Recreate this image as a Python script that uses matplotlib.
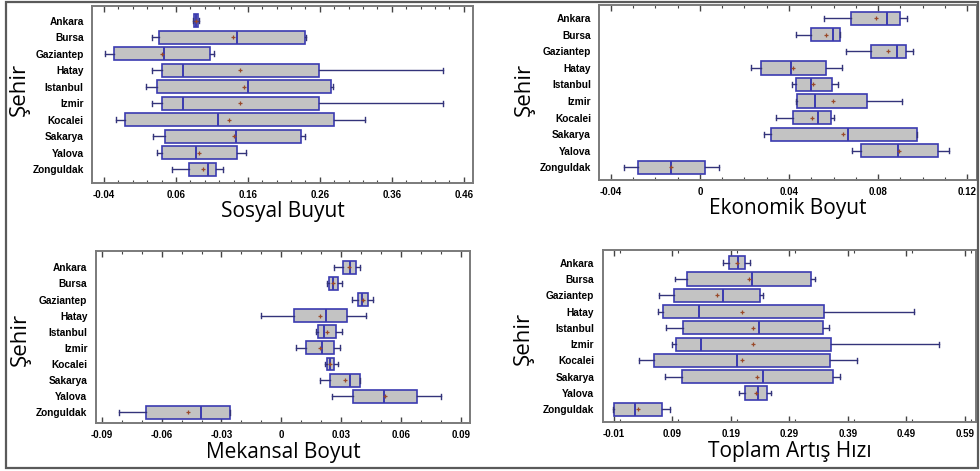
import matplotlib
matplotlib.use("Agg")
from matplotlib import pyplot as plt
from matplotlib.patches import Rectangle
from matplotlib.ticker import MultipleLocator

cities = ["Ankara", "Bursa", "Gaziantep", "Hatay", "Istanbul",
          "Izmir", "Kocalei", "Sakarya", "Yalova", "Zonguldak"]

# Sosyal Buyut
sos_lo = [0.0843, 0.0263, -0.0390, 0.0263, 0.0189, 0.0263, -0.0228, 0.0282, 0.0342, 0.0551]
sos_q1 = [0.0857, 0.0370, -0.0265, 0.0402, 0.0333, 0.0412, -0.0103, 0.0453, 0.0402, 0.0787]
sos_med = [0.0885, 0.1446, 0.0440, 0.0699, 0.1608, 0.0704, 0.1191, 0.1441, 0.0885, 0.1052]
sos_q3 = [0.0908, 0.2397, 0.1080, 0.2590, 0.2754, 0.2590, 0.2791, 0.2337, 0.1446, 0.1163]
sos_hi = [0.0922, 0.2406, 0.1126, 0.4308, 0.2777, 0.4308, 0.3222, 0.2397, 0.1571, 0.1251]
sos_mean = [0.0885, 0.1386, 0.0412, 0.1492, 0.1543, 0.1492, 0.1344, 0.1400, 0.0927, 0.0982]

# Ekonomik Boyut
eko_lo = [0.0558, 0.0430, 0.0657, 0.0231, 0.0413, 0.0431, 0.0343, 0.0288, 0.0681, -0.0342]
eko_q1 = [0.0678, 0.0499, 0.0768, 0.0273, 0.0430, 0.0437, 0.0416, 0.0318, 0.0724, -0.0279]
eko_med = [0.0838, 0.0599, 0.0883, 0.0408, 0.0500, 0.0518, 0.0530, 0.0663, 0.0890, -0.0129]
eko_q3 = [0.0899, 0.0629, 0.0923, 0.0566, 0.0591, 0.0748, 0.0588, 0.0973, 0.1070, 0.0024]
eko_hi = [0.0929, 0.0629, 0.0958, 0.0639, 0.0620, 0.0908, 0.0600, 0.0973, 0.1119, 0.0087]
eko_mean = [0.0792, 0.0565, 0.0845, 0.0419, 0.0509, 0.0596, 0.0503, 0.0643, 0.0895, -0.0129]

# Mekansal Boyut
mek_lo = [0.0265, 0.0227, 0.0356, -0.0102, 0.0175, 0.0072, 0.0219, 0.0195, 0.0252, -0.0812]
mek_q1 = [0.0307, 0.0237, 0.0383, 0.0062, 0.0182, 0.0125, 0.0230, 0.0245, 0.0360, -0.0680]
mek_med = [0.0346, 0.0257, 0.0404, 0.0225, 0.0215, 0.0205, 0.0245, 0.0344, 0.0516, -0.0401]
mek_q3 = [0.0374, 0.0285, 0.0433, 0.0327, 0.0274, 0.0265, 0.0265, 0.0396, 0.0681, -0.0256]
mek_hi = [0.0396, 0.0304, 0.0461, 0.0426, 0.0302, 0.0294, 0.0285, 0.0396, 0.0800, -0.0256]
mek_mean = [0.0339, 0.0260, 0.0411, 0.0192, 0.0230, 0.0195, 0.0243, 0.0317, 0.0520, -0.0468]

# Toplam Artış Hızı
top_lo = [0.1758, 0.0937, 0.0664, 0.0658, 0.0783, 0.0886, 0.0333, 0.0767, 0.2031, -0.0112]
top_q1 = [0.1871, 0.1142, 0.0931, 0.0732, 0.1085, 0.0960, 0.0579, 0.1062, 0.2145, -0.0095]
top_med = [0.2025, 0.2259, 0.1758, 0.1358, 0.2373, 0.1387, 0.2008, 0.2452, 0.2356, 0.0264]
top_q3 = [0.2145, 0.3273, 0.2391, 0.3484, 0.3473, 0.3604, 0.3587, 0.3649, 0.2521, 0.0726]
top_hi = [0.2225, 0.3336, 0.2452, 0.5028, 0.3580, 0.5460, 0.4049, 0.3763, 0.2589, 0.0857]
top_mean = [0.2003, 0.2208, 0.1655, 0.2093, 0.2271, 0.2271, 0.2088, 0.2350, 0.2322, 0.0315]

sos_ticks = [-0.04, 0.06, 0.16, 0.26, 0.36, 0.46]
eko_ticks = [-0.04, 0, 0.04, 0.08, 0.12]
mek_ticks = [-0.09, -0.06, -0.03, 0, 0.03, 0.06, 0.09]
top_ticks = [-0.01, 0.09, 0.19, 0.29, 0.39, 0.49, 0.59]
sos_tick_labels = ["-0.04", "0.06", "0.16", "0.26", "0.36", "0.46"]
eko_tick_labels = ["-0.04", "0", "0.04", "0.08", "0.12"]
mek_tick_labels = ["-0.09", "-0.06", "-0.03", "0", "0.03", "0.06", "0.09"]
top_tick_labels = ["-0.01", "0.09", "0.19", "0.29", "0.39", "0.49", "0.59"]

BOX_FACE = "#c3c3c3"
BOX_EDGE = "#3b3bb0"
WHISK = "#33337a"
MEAN_C = "#9a4a2a"
SPINE = "#7a7a7a"
label_font = ["Liberation Sans", "DejaVu Sans"]
title_font = ["Open Sans", "DejaVu Sans"]

fig = plt.figure(figsize=(9.8, 4.71), dpi=100)
W, H = 980.0, 471.0


def panel(rect, lo, q1, med, q3, hi, mean, xlim, ylim, ticks, tlabels, minor, xlabel, ylab_xy):
    ax = fig.add_axes(rect)
    stats = []
    for i in range(len(cities)):
        stats.append({"label": cities[i], "whislo": lo[i], "q1": q1[i], "med": med[i],
                      "q3": q3[i], "whishi": hi[i], "mean": mean[i], "fliers": []})
    ax.bxp(stats, positions=range(len(cities)), orientation="horizontal", widths=0.8,
           patch_artist=True, showmeans=True, capwidths=0.3,
           boxprops=dict(facecolor=BOX_FACE, edgecolor=BOX_EDGE, linewidth=1.2),
           medianprops=dict(color=BOX_EDGE, linewidth=1.4),
           whiskerprops=dict(color=WHISK, linewidth=1.0),
           capprops=dict(color=WHISK, linewidth=1.0),
           meanprops=dict(marker="+", markeredgecolor=MEAN_C, markersize=3.5,
                          markeredgewidth=0.9))
    ax.set_xlim(xlim)
    ax.set_ylim(ylim)
    ax.set_xticks(ticks)
    ax.set_xticklabels(tlabels, family=label_font, fontweight="bold", fontsize=7)
    ax.xaxis.set_minor_locator(MultipleLocator(minor))
    ax.set_yticks(range(len(cities)))
    ax.set_yticklabels(cities, family=label_font, fontweight="bold", fontsize=7.3)
    ax.tick_params(axis="x", which="both", direction="in", top=True, bottom=True,
                   color="#444444", pad=5)
    ax.tick_params(axis="x", which="major", length=4, width=1)
    ax.tick_params(axis="x", which="minor", length=2.5, width=0.8)
    ax.tick_params(axis="y", length=0, pad=6)
    for s in ax.spines.values():
        s.set_color(SPINE)
        s.set_linewidth(1.4)
    ax.set_xlabel(xlabel, family=title_font, fontsize=15, labelpad=1)
    fig.text(ylab_xy[0] / W, 1 - ylab_xy[1] / H, "Şehir", family=title_font, fontsize=16,
             rotation=90, ha="center", va="center")
    return ax


panel([0.0939, 0.6115, 0.3891, 0.3758], sos_lo, sos_q1, sos_med, sos_q3, sos_hi, sos_mean,
      (-0.0567, 0.4734), (9.83, -0.89), sos_ticks, sos_tick_labels, 0.02, "Sosyal Buyut",
      (19, 89))
panel([0.6115, 0.6178, 0.3854, 0.3715], eko_lo, eko_q1, eko_med, eko_q3, eko_hi, eko_mean,
      (-0.0451, 0.1243), (9.77, -0.80), eko_ticks, eko_tick_labels, 0.01, "Ekonomik Boyut",
      (524, 89))
panel([0.0977, 0.1013, 0.3822, 0.3658], mek_lo, mek_q1, mek_med, mek_q3, mek_hi, mek_mean,
      (-0.093, 0.0947), (9.68, -1.01), mek_ticks, mek_tick_labels, 0.01, "Mekansal Boyut",
      (20, 339))
panel([0.615, 0.1034, 0.3809, 0.3658], top_lo, top_q1, top_med, top_q3, top_hi, top_mean,
      (-0.0293, 0.6088), (9.80, -0.78), top_ticks, top_tick_labels, 0.1, "Toplam Artış Hızı",
      (523, 338))

# outer frame around the whole figure
fig.patches.append(Rectangle((0.006, 0.006), 0.992, 0.99, transform=fig.transFigure,
                             fill=False, edgecolor="#5a5a5a", linewidth=1.6))

plt.savefig("out.png", dpi=100)
